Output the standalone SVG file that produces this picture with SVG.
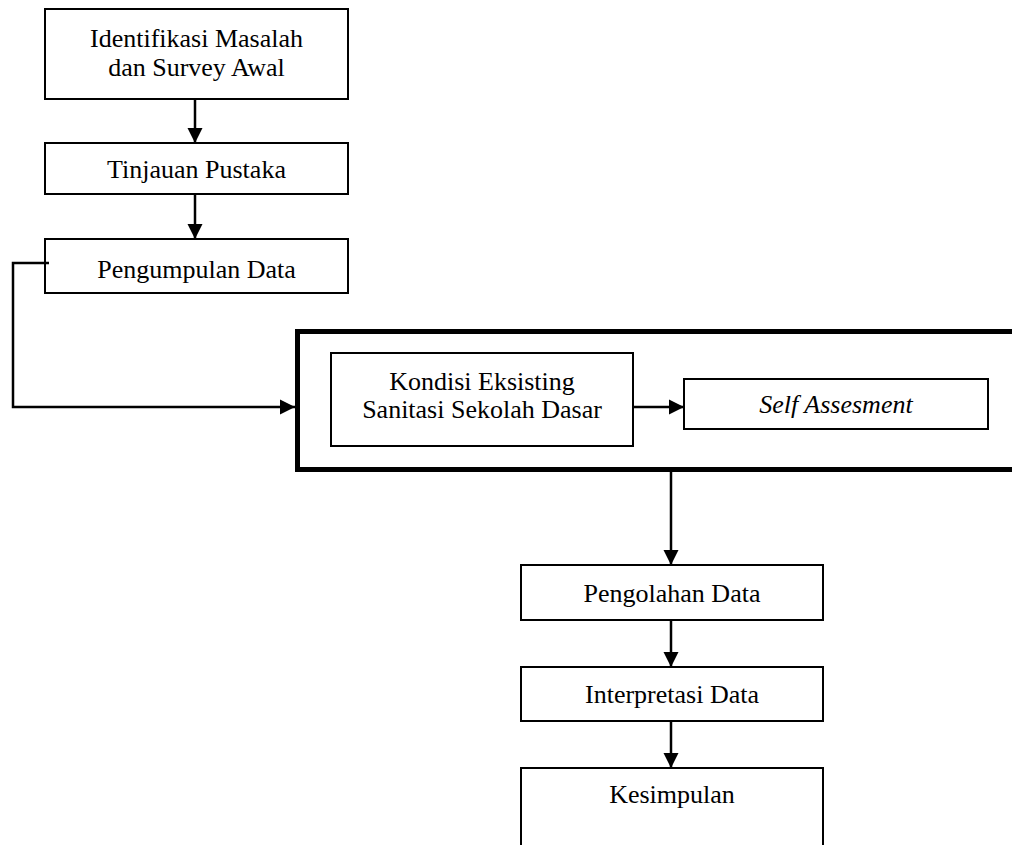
<svg xmlns="http://www.w3.org/2000/svg" width="1012" height="845" viewBox="0 0 1012 845">
<style>
.box{fill:#fff;stroke:#000;stroke-width:2}
.frame{fill:none;stroke:#000;stroke-width:5}
.t{font-family:"Liberation Serif","Times New Roman",serif;font-size:26px;fill:#000;text-anchor:middle}
.it{font-style:italic}
.c{fill:none;stroke:#000;stroke-width:2.5}
</style>
<defs>
<marker id="ah" markerUnits="userSpaceOnUse" markerWidth="16" markerHeight="16" refX="15" refY="7.5" orient="auto" viewBox="0 0 16 15">
<path d="M0,0 L15,7.5 L0,15 z" fill="#000"/>
</marker>
</defs>
<rect width="1012" height="845" fill="#fff"/>
<g id="frame-group">
<rect class="frame" x="297.5" y="331.5" width="730" height="138"/>
</g>
<g id="n1"><rect class="box" x="45" y="9" width="303" height="90"/>
<text class="t" x="196.5" y="47">Identifikasi Masalah</text>
<text class="t" x="196.5" y="76">dan Survey Awal</text></g>
<g id="n2"><rect class="box" x="45" y="143" width="303" height="51"/>
<text class="t" x="196.5" y="178">Tinjauan Pustaka</text></g>
<g id="n3"><rect class="box" x="45" y="239" width="303" height="54"/>
<text class="t" x="196.5" y="278">Pengumpulan Data</text></g>
<g id="n4"><rect class="box" x="331" y="353" width="302" height="93"/>
<text class="t" x="482" y="390">Kondisi Eksisting</text>
<text class="t" x="482" y="418">Sanitasi Sekolah Dasar</text></g>
<g id="n5"><rect class="box" x="684" y="379" width="304" height="50"/>
<text class="t it" x="836" y="413">Self Assesment</text></g>
<g id="n6"><rect class="box" x="521" y="565" width="302" height="55"/>
<text class="t" x="672" y="602">Pengolahan Data</text></g>
<g id="n7"><rect class="box" x="521" y="667" width="302" height="54"/>
<text class="t" x="672" y="703">Interpretasi Data</text></g>
<g id="n8"><rect class="box" x="521" y="768" width="302" height="100"/>
<text class="t" x="672" y="803">Kesimpulan</text></g>
<g id="connectors">
<line class="c" x1="195" y1="99" x2="195" y2="143" marker-end="url(#ah)"/>
<line class="c" x1="195" y1="194" x2="195" y2="239" marker-end="url(#ah)"/>
<path class="c" d="M49,263 H13 V407 H295" marker-end="url(#ah)"/>
<line class="c" x1="633" y1="407" x2="684" y2="407" marker-end="url(#ah)"/>
<line class="c" x1="671" y1="472" x2="671" y2="565" marker-end="url(#ah)"/>
<line class="c" x1="671" y1="620" x2="671" y2="667" marker-end="url(#ah)"/>
<line class="c" x1="671" y1="721" x2="671" y2="768" marker-end="url(#ah)"/>
</g>
</svg>
